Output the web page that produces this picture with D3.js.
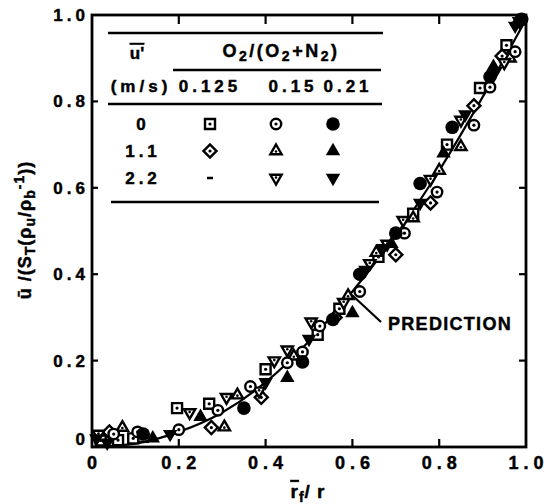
<!DOCTYPE html>
<html><head><meta charset="utf-8">
<script src="https://cdn.jsdelivr.net/npm/d3@7"></script>
<style>
body{margin:0;background:#fff;}
text{font-family:"Liberation Sans",Arial,sans-serif;font-weight:bold;fill:#000;stroke:#000;stroke-width:0.45px;}
</style></head>
<body><svg id="c" width="550" height="504"></svg>
<script>
// ---- data ----
const xTicks = [0, 0.2, 0.4, 0.6, 0.8, 1.0];
const xTickLabels = ["0", "0.2", "0.4", "0.6", "0.8", "1.0"];
const yTicks = [0, 0.2, 0.4, 0.6, 0.8, 1.0];
const yTickLabels = ["0", "0.2", "0.4", "0.6", "0.8", "1.0"];
const o2Levels = ["0.125", "0.15", "0.21"];
const uLevels = ["0", "1.1", "2.2"];

// O2 = 0.125, u' = 0  (open square)
const sq125_0 = [[0.02,0.015],[0.06,0.016],[0.095,0.02],[0.196,0.09],[0.27,0.10],[0.40,0.18],[0.52,0.26],[0.57,0.32],[0.66,0.44],[0.74,0.54],[0.818,0.70],[0.894,0.831],[0.955,0.93]];
// O2 = 0.15, u' = 0  (open circle)
const ci15_0 = [[0.05,0.03],[0.105,0.035],[0.2,0.04],[0.29,0.085],[0.365,0.14],[0.45,0.195],[0.485,0.22],[0.525,0.28],[0.617,0.36],[0.72,0.495],[0.795,0.59],[0.88,0.745],[0.917,0.833],[0.975,0.915]];
// O2 = 0.21, u' = 0  (filled circle)
const fc21_0 = [[0.118,0.03],[0.35,0.09],[0.485,0.197],[0.555,0.295],[0.617,0.40],[0.70,0.495],[0.756,0.61],[0.83,0.74],[0.917,0.857],[0.99,0.99]];
// O2 = 0.125, u' = 1.1  (open diamond)
const di125_11 = [[0.04,0.035],[0.275,0.045],[0.39,0.115],[0.56,0.30],[0.70,0.445],[0.78,0.565],[0.88,0.79],[0.945,0.905]];
// O2 = 0.15, u' = 1.1  (open triangle)
const tr15_11 = [[0.07,0.045],[0.305,0.046],[0.335,0.12],[0.465,0.21],[0.59,0.35],[0.655,0.45],[0.74,0.53],[0.80,0.64],[0.85,0.695],[0.963,0.90]];
// O2 = 0.21, u' = 1.1  (filled triangle)
const ft21_11 = [[0.14,0.02],[0.25,0.07],[0.45,0.16],[0.60,0.31],[0.69,0.47],[0.81,0.68],[0.925,0.88],[0.98,0.985]];
// O2 = 0.125, u' = 2.2  (dash)
const da125_22 = [[0.12,0.012]];
// O2 = 0.15, u' = 2.2  (open down triangle)
const dt15_22 = [[0.015,0.03],[0.225,0.08],[0.31,0.115],[0.385,0.13],[0.42,0.20],[0.45,0.225],[0.505,0.29],[0.58,0.335],[0.64,0.425],[0.68,0.47],[0.717,0.525],[0.78,0.62],[0.85,0.757],[0.95,0.89],[0.985,0.985]];
// O2 = 0.21, u' = 2.2  (filled down triangle)
const fd21_22 = [[0.01,0.02],[0.035,0.01],[0.18,0.03],[0.40,0.15],[0.50,0.25],[0.63,0.41],[0.67,0.46],[0.756,0.565],[0.86,0.77],[0.93,0.87],[0.975,0.975]];

// prediction curve
const predX = [0, 0.1, 0.2, 0.3, 0.4, 0.5, 0.6, 0.7, 0.8, 0.9, 1.0];
const predY = [0, 0.008, 0.035, 0.08, 0.15, 0.245, 0.36, 0.49, 0.64, 0.81, 0.99];

// ---- drawing ----
const svg = d3.select("#c");
const L = 92, R = 526, T = 15, B = 447;
const x = d3.scaleLinear().domain([0,1]).range([L,R]);
const y = d3.scaleLinear().domain([0,1]).range([B,T]);

// prediction line
svg.append("path")
  .datum(predX.map((v,i)=>[v,predY[i]]))
  .attr("fill","none").attr("stroke","#000").attr("stroke-width",2.2)
  .attr("d", d3.line().x(d=>x(d[0])).y(d=>y(d[1])).curve(d3.curveMonotoneX));

// marker drawing
function marker(g, type, cx, cy) {
  const sw = 2.4;
  if (type === "sq") {
    g.append("path").attr("d", d3.symbol(d3.symbolSquare, 100)()).attr("transform",`translate(${cx},${cy})`)
      .attr("fill","#fff").attr("stroke","#000").attr("stroke-width",sw);
    g.append("circle").attr("cx",cx).attr("cy",cy).attr("r",1.6).attr("fill","#000");
  } else if (type === "ci") {
    g.append("circle").attr("cx",cx).attr("cy",cy).attr("r",5.2).attr("fill","#fff").attr("stroke","#000").attr("stroke-width",sw);
    g.append("circle").attr("cx",cx).attr("cy",cy).attr("r",1.6).attr("fill","#000");
  } else if (type === "fc") {
    g.append("circle").attr("cx",cx).attr("cy",cy).attr("r",6.8).attr("fill","#000");
  } else if (type === "di") {
    g.append("path").attr("d", d3.symbol(d3.symbolSquare, 85)()).attr("transform",`translate(${cx},${cy}) rotate(45)`)
      .attr("fill","#fff").attr("stroke","#000").attr("stroke-width",sw);
    g.append("circle").attr("cx",cx).attr("cy",cy).attr("r",1.6).attr("fill","#000");
  } else if (type === "tr" || type === "dt") {
    const rot = type === "dt" ? 180 : 0;
    g.append("path").attr("d", d3.symbol(d3.symbolTriangle, 55)()).attr("transform",`translate(${cx},${cy}) rotate(${rot})`)
      .attr("fill","#fff").attr("stroke","#000").attr("stroke-width",sw).attr("stroke-linejoin","miter");
    g.append("circle").attr("cx",cx).attr("cy",cy + (type==="dt"?-0.5:0.5)).attr("r",1.3).attr("fill","#000");
  } else if (type === "ft" || type === "fd") {
    const rot = type === "fd" ? 180 : 0;
    g.append("path").attr("d", d3.symbol(d3.symbolTriangle, 90)()).attr("transform",`translate(${cx},${cy}) rotate(${rot})`)
      .attr("fill","#000");
  } else if (type === "da") {
    g.append("line").attr("x1",cx-5).attr("x2",cx+5).attr("y1",cy).attr("y2",cy).attr("stroke","#000").attr("stroke-width",2.5);
  }
}

const series = [
  {type:"da", data:da125_22},
  {type:"sq", data:sq125_0},
  {type:"di", data:di125_11},
  {type:"tr", data:tr15_11},
  {type:"dt", data:dt15_22},
  {type:"ci", data:ci15_0},
  {type:"fc", data:fc21_0},
  {type:"ft", data:ft21_11},
  {type:"fd", data:fd21_22}
];
const mg = svg.append("g");
series.forEach(s => s.data.forEach(d => marker(mg, s.type, x(d[0]), y(d[1]))));

// frame
svg.append("rect").attr("x",L).attr("y",T).attr("width",R-L).attr("height",B-T)
  .attr("fill","none").attr("stroke","#000").attr("stroke-width",2.8);

// ticks (inward)
const tg = svg.append("g").attr("stroke","#000").attr("stroke-width",2.2);
xTicks.slice(1,-1).forEach(v => {
  tg.append("line").attr("x1",x(v)).attr("x2",x(v)).attr("y1",B).attr("y2",B-8);
  tg.append("line").attr("x1",x(v)).attr("x2",x(v)).attr("y1",T).attr("y2",T+9);
});
yTicks.slice(1,-1).forEach(v => {
  tg.append("line").attr("x1",L).attr("x2",L+6).attr("y1",y(v)).attr("y2",y(v));
  tg.append("line").attr("x1",R).attr("x2",R-7).attr("y1",y(v)).attr("y2",y(v));
});

// tick labels
xTicks.forEach((v,i) => {
  svg.append("text").attr("x",x(v)+2.5).attr("y",469).attr("text-anchor","middle")
    .style("font-size","18px").style("letter-spacing","5px").text(xTickLabels[i]);
});
yTicks.forEach((v,i) => {
  svg.append("text").attr("x",89).attr("y", v===0 ? 445 : y(v)+6).attr("text-anchor","end")
    .style("font-size","17px").style("letter-spacing","4px").text(yTickLabels[i]);
});

// axis labels
const xl = svg.append("text").attr("x",308).attr("y",498).attr("text-anchor","middle").style("font-size","19px").style("letter-spacing","1px");
xl.append("tspan").style("text-decoration","overline").text("r");
xl.append("tspan").attr("dy",4).style("font-size","14px").text("f");
xl.append("tspan").attr("dy",-4).text("/ r");

const yl = svg.append("text").attr("transform","translate(31,230) rotate(-90)").attr("text-anchor","middle")
  .style("font-size","18px").style("letter-spacing","1px");
yl.append("tspan").text("\u016B  /(S");
yl.append("tspan").attr("dy",4).style("font-size","14px").text("T");
yl.append("tspan").attr("dy",-4).text("(\u03C1");
yl.append("tspan").attr("dy",4).style("font-size","14px").text("u");
yl.append("tspan").attr("dy",-4).text("/\u03C1");
yl.append("tspan").attr("dy",4).style("font-size","14px").text("b");
yl.append("tspan").attr("dy",-11).style("font-size","14px").text("-1");
yl.append("tspan").attr("dy",7).text("))");

// PREDICTION label with leader
svg.append("line").attr("x1",352).attr("y1",295).attr("x2",381).attr("y2",322)
  .attr("stroke","#000").attr("stroke-width",2.2);
svg.append("text").attr("x",388).attr("y",330).style("font-size","18px").style("letter-spacing","1.3px").text("PREDICTION");

// legend table
const lg = svg.append("g");
const hl = (x1,x2,yy) => lg.append("line").attr("x1",x1).attr("x2",x2).attr("y1",yy).attr("y2",yy).attr("stroke","#000").attr("stroke-width",2.4);
hl(108,383,33); hl(173,381,70); hl(108,382,104); hl(111,379,202);

lg.append("text").attr("x",137).attr("y",59).attr("text-anchor","middle").style("font-size","17px")
  .style("text-decoration","overline").text("u'");
const oh = lg.append("text").attr("x",281).attr("y",57).attr("text-anchor","middle").style("font-size","18px").style("letter-spacing","2.5px");
oh.append("tspan").text("O");
oh.append("tspan").attr("dy",4).style("font-size","14px").text("2");
oh.append("tspan").attr("dy",-4).text("/(O");
oh.append("tspan").attr("dy",4).style("font-size","14px").text("2");
oh.append("tspan").attr("dy",-4).text("+N");
oh.append("tspan").attr("dy",4).style("font-size","14px").text("2");
oh.append("tspan").attr("dy",-4).text(")");

lg.append("text").attr("x",141).attr("y",92).attr("text-anchor","middle").style("font-size","17px").style("letter-spacing","4px").text("(m/s)");
const colX = [210, 276, 333];
const colTX = [208, 291, 346];
o2Levels.forEach((t,i) => lg.append("text").attr("x",colTX[i]+2).attr("y",92).attr("text-anchor","middle")
  .style("font-size","17px").style("letter-spacing","4px").text(t));
const rowY = [124, 151, 178];
uLevels.forEach((t,i) => lg.append("text").attr("x",141+2).attr("y",rowY[i]+6).attr("text-anchor","middle")
  .style("font-size","17px").style("letter-spacing","4px").text(t));
const legTypes = [["sq","ci","fc"],["di","tr","ft"],["da","dt","fd"]];
legTypes.forEach((row,ri) => row.forEach((t,ci) => {
  if (t === "da") lg.append("line").attr("x1",colX[ci]-3).attr("x2",colX[ci]+3).attr("y1",rowY[ri]).attr("y2",rowY[ri]).attr("stroke","#000").attr("stroke-width",2.5);
  else marker(lg, t, colX[ci], rowY[ri]);
}));
</script></body></html>
